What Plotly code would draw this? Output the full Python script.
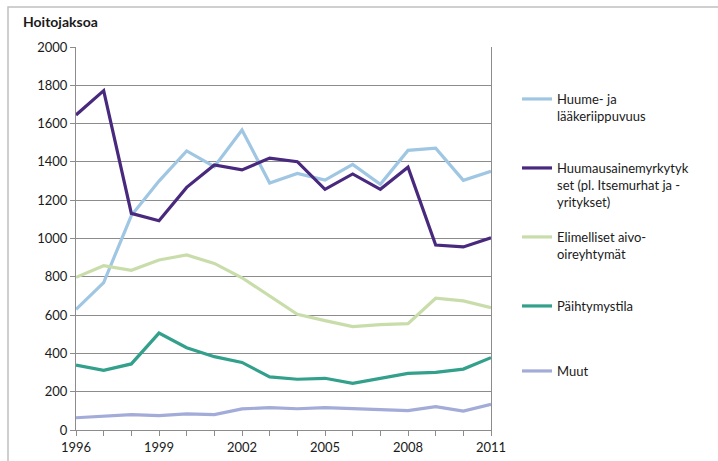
import plotly.graph_objects as go

years = list(range(1996, 2012))

huume_laake = [630, 770, 1120, 1300, 1457, 1375, 1567, 1290, 1340, 1305, 1387, 1283, 1460, 1472, 1304, 1351]
myrkytykset = [1645, 1772, 1131, 1093, 1267, 1384, 1358, 1420, 1401, 1257, 1337, 1257, 1372, 966, 956, 1004]
elimelliset = [797, 858, 834, 888, 914, 870, 795, 700, 604, 571, 540, 550, 555, 688, 674, 639]
paihtymys = [339, 312, 345, 506, 430, 383, 353, 277, 265, 270, 244, 270, 296, 301, 318, 378]
muut = [64, 70, 80, 75, 84, 80, 110, 117, 111, 117, 111, 106, 101, 122, 99, 134]

series_names = [
    "Huume- ja<br>lääkeriippuvuus",
    "Huumausainemyrkytyk<br>set (pl. Itsemurhat ja -<br>yritykset)",
    "Elimelliset aivo-<br>oireyhtymät",
    "Päihtymystila",
    "Muut",
]
series_values = [huume_laake, myrkytykset, elimelliset, paihtymys, muut]
series_colors = ["#9FC6E2", "#48297E", "#C9DDAB", "#32A08B", "#A3ABD8"]

x_tick_labels = ["1996", "", "", "1999", "", "", "2002", "", "", "2005", "", "", "2008", "", "", "2011"]
y_tick_vals = [0, 200, 400, 600, 800, 1000, 1200, 1400, 1600, 1800, 2000]

FONT = "Lato, 'Open Sans', sans-serif"
W, H = 718, 461
L, R, T, B = 76, 227, 47, 31
PW, PH = W - L - R, H - T - B

fig = go.Figure()
legend_keys = ["legend", "legend2", "legend3", "legend4", "legend5"]
for name, vals, col, lk in zip(series_names, series_values, series_colors, legend_keys):
    fig.add_trace(go.Scatter(
        x=years, y=vals, mode="lines", name=name,
        line=dict(color=col, width=3.2),
        legend=lk,
    ))

# legend top positions in pixels
legend_tops_px = [84, 153, 222, 291, 356]
layout_legends = {}
for lk, top in zip(legend_keys, legend_tops_px):
    layout_legends[lk] = dict(
        xref="container", yref="container",
        x=517 / W, xanchor="left", y=1 - top / H, yanchor="top",
        bgcolor="rgba(0,0,0,0)", borderwidth=0,
        font=dict(family=FONT, size=13, color="#1a1a1a"),
        itemwidth=30, valign="top", tracegroupgap=0,
    )

fig.update_layout(
    width=W, height=H,
    margin=dict(l=L, r=R, t=T, b=B, pad=0, autoexpand=False),
    paper_bgcolor="white", plot_bgcolor="white",
    showlegend=True,
    font=dict(family=FONT, size=13, color="#1a1a1a"),
    xaxis=dict(
        range=[1996, 2011],
        tickvals=years, ticktext=x_tick_labels,
        showgrid=False, zeroline=False,
        showline=True, linecolor="#8c8c8c", linewidth=1,
        ticks="outside", ticklen=5, tickcolor="#8c8c8c",
        tickfont=dict(family=FONT, size=13, color="#1a1a1a"),
        automargin=False,
    ),
    yaxis=dict(
        range=[0, 2000], tickvals=y_tick_vals,
        showgrid=True, gridcolor="#8c8c8c", gridwidth=1,
        zeroline=False,
        showline=True, linecolor="#8c8c8c", linewidth=1, mirror=True,
        ticks="outside", ticklen=5, tickcolor="#8c8c8c",
        tickfont=dict(family=FONT, size=13, color="#1a1a1a"),
        automargin=False,
    ),
    annotations=[dict(
        text="<b>Hoitojaksoa</b>", xref="paper", yref="paper",
        x=(21 - L) / PW, y=(H - B - 21) / PH, xanchor="left", yanchor="middle",
        showarrow=False, font=dict(family=FONT, size=14, color="#1a1a1a"),
    )],
    shapes=[dict(
        type="rect", xref="paper", yref="paper",
        x0=(8 - L) / PW, x1=1.6, y0=-0.2, y1=(H - B - 7) / PH,
        line=dict(color="#c0c0c0", width=1.5), fillcolor="rgba(0,0,0,0)", layer="below",
    )],
    **layout_legends,
)

fig.write_html("out.html")
